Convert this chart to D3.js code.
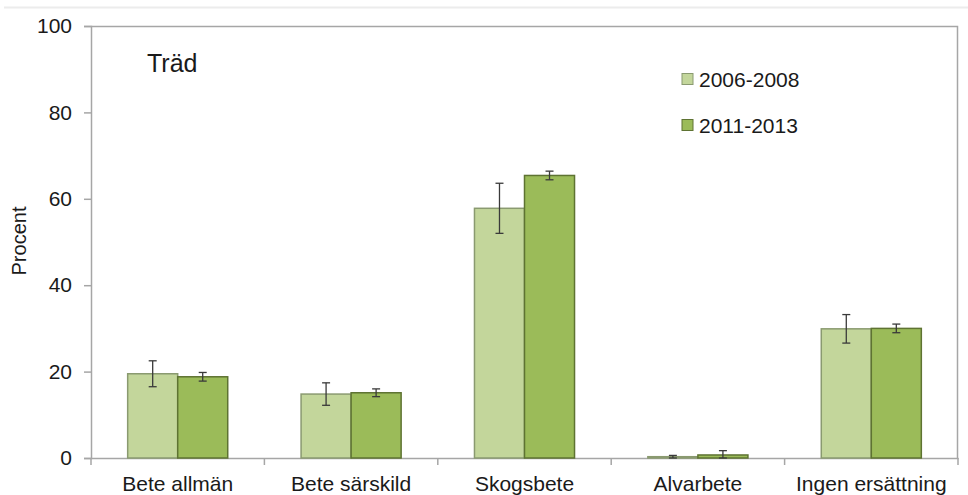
<!DOCTYPE html>
<html>
<head>
<meta charset="utf-8">
<script src="https://cdn.jsdelivr.net/npm/d3@7"></script>
<style>
  html, body { margin: 0; padding: 0; background: #fff; }
  svg { display: block; }
  text { font-family: "Liberation Sans", Arial, sans-serif; fill: #1a1a1a; }
</style>
</head>
<body>
<svg id="chart" width="968" height="495"></svg>
<script>
const categories = ["Bete allmän", "Bete särskild", "Skogsbete", "Alvarbete", "Ingen ersättning"];
const seriesNames = ["2006-2008", "2011-2013"];
const values2006 = [19.5, 14.8, 57.8, 0.3, 29.9];
const values2011 = [18.8, 15.1, 65.4, 0.7, 30.0];
const err2006 = [3.0, 2.6, 5.8, 0.3, 3.3];
const err2011 = [1.0, 0.9, 1.0, 1.0, 1.0];
const yTicks = [0, 20, 40, 60, 80, 100];
const colors = ["#c3d69b", "#9bbb59"];
const strokes = ["#8a9a70", "#5e7332"];
const title = "Träd";
const yLabel = "Procent";

const svg = d3.select("#chart");
const margin = { left: 91, right: 968 - 958, top: 26, bottom: 495 - 458 };
const W = 968, H = 495;

// faint top rule
svg.append("line").attr("x1", 4).attr("x2", 968).attr("y1", 7.5).attr("y2", 7.5)
  .attr("stroke", "#ececec").attr("stroke-width", 2);

const x = d3.scaleBand().domain(categories).range([margin.left, W - margin.right]).padding(0);
const groupW = x.bandwidth() * 0.577;
const xs = d3.scaleBand().domain(seriesNames).range([0, groupW]).padding(0);
const y = d3.scaleLinear().domain([0, 100]).range([H - margin.bottom, margin.top]);

const axisColor = "#a6a6a6";

// plot border (top & right)
svg.append("path")
  .attr("d", `M${margin.left},${margin.top + 0.5}H${W - margin.right - 0.5}V${y(0)}`)
  .attr("fill", "none").attr("stroke", axisColor).attr("stroke-width", 1.5);

// y axis
const yAxis = svg.append("g").attr("transform", `translate(${margin.left},0)`)
  .call(d3.axisLeft(y).tickValues(yTicks).tickSize(7).tickPadding(12));
yAxis.select(".domain").attr("stroke", axisColor).attr("stroke-width", 1.5);
yAxis.selectAll(".tick line").attr("stroke", axisColor).attr("stroke-width", 1.5);
yAxis.selectAll(".tick text").style("font-size", "21px").attr("fill", "#1a1a1a")
  .style("font-family", "'Liberation Sans', Arial, sans-serif");

// x axis
const xAxis = svg.append("g").attr("transform", `translate(0,${y(0)})`)
  .call(d3.axisBottom(x).tickSize(0).tickPadding(18));
xAxis.select(".domain").attr("stroke", axisColor).attr("stroke-width", 1.5);
xAxis.selectAll(".tick text").style("font-size", "21px").attr("fill", "#1a1a1a")
  .style("font-family", "'Liberation Sans', Arial, sans-serif");
// boundary ticks
const bounds = categories.map(c => x(c)).concat([x(categories[categories.length - 1]) + x.bandwidth()]);
svg.append("g").selectAll("line").data(bounds).join("line")
  .attr("x1", d => d).attr("x2", d => d)
  .attr("y1", y(0)).attr("y2", y(0) + 7)
  .attr("stroke", axisColor).attr("stroke-width", 1.5);

// bars
const allVals = [values2006, values2011];
const allErr = [err2006, err2011];
const groups = svg.append("g");
seriesNames.forEach((s, si) => {
  const data = categories.map((c, i) => ({ c, v: allVals[si][i], e: allErr[si][i] }));
  const off = (x.bandwidth() - groupW) / 2;
  groups.append("g").selectAll("rect").data(data).join("rect")
    .attr("x", d => x(d.c) + off + xs(s))
    .attr("y", d => y(d.v))
    .attr("width", xs.bandwidth())
    .attr("height", d => y(0) - y(d.v))
    .attr("fill", colors[si])
    .attr("stroke", strokes[si]).attr("stroke-width", 1.5);
  // error bars
  const eg = groups.append("g").attr("stroke", "#3a3a3a").attr("stroke-width", 1.3);
  data.forEach(d => {
    const cx = x(d.c) + off + xs(s) + xs.bandwidth() / 2;
    const y1 = y(d.v + d.e), y2 = y(Math.max(0, d.v - d.e));
    eg.append("line").attr("x1", cx).attr("x2", cx).attr("y1", y1).attr("y2", y2);
    eg.append("line").attr("x1", cx - 4).attr("x2", cx + 4).attr("y1", y1).attr("y2", y1);
    eg.append("line").attr("x1", cx - 4).attr("x2", cx + 4).attr("y1", y2).attr("y2", y2);
  });
});

// title
svg.append("text").attr("x", 147).attr("y", 72).style("font-size", "25px").text(title);

// y label
svg.append("text").attr("transform", `translate(26,241) rotate(-90)`)
  .attr("text-anchor", "middle").style("font-size", "20px").text(yLabel);

// legend
const leg = svg.append("g");
seriesNames.forEach((s, i) => {
  const ly = 79 + i * 46;
  leg.append("rect").attr("x", 682).attr("y", ly - 5.5).attr("width", 11).attr("height", 11)
    .attr("fill", colors[i]).attr("stroke", strokes[i]).attr("stroke-width", 1);
  leg.append("text").attr("x", 699).attr("y", ly + 7.5).style("font-size", "21px").text(s);
});
</script>
</body>
</html>
